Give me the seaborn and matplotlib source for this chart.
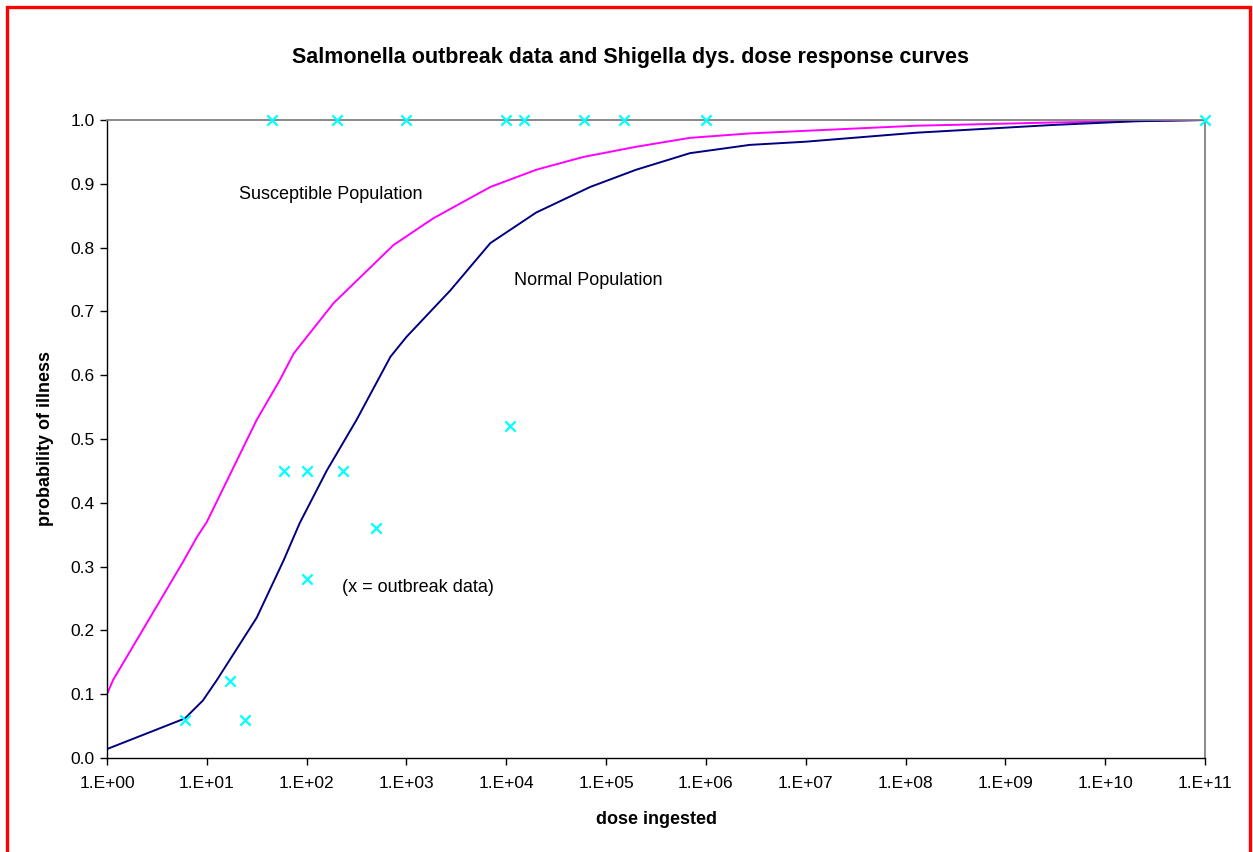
import numpy as np
import pandas as pd
import matplotlib.pyplot as plt
import seaborn as sns
from matplotlib.patches import Rectangle
from matplotlib.ticker import NullLocator

# dose response curves (log10 dose, probability)
normal_logdose = [0, 0.78, 0.96, 1.1, 1.5, 1.77, 1.93, 2.2, 2.5, 2.84, 3.0, 3.44, 3.84,
                  4.3, 4.84, 5.3, 5.84, 6.44, 7.0, 8.1, 9.45, 10.3, 11.0]
normal_prob = [0.014, 0.062, 0.09, 0.122, 0.22, 0.31, 0.368, 0.45, 0.53, 0.629, 0.66,
               0.733, 0.807, 0.855, 0.895, 0.922, 0.948, 0.961, 0.966, 0.98, 0.992,
               0.998, 1.0]

suscept_logdose = [0, 0.06, 0.76, 0.9, 1.0, 1.5, 1.73, 1.87, 2.27, 2.87, 3.27, 3.84,
                   4.3, 4.77, 5.3, 5.84, 6.44, 8.1, 9.45, 11.0]
suscept_prob = [0.1, 0.122, 0.307, 0.346, 0.37, 0.53, 0.592, 0.634, 0.713, 0.804, 0.846,
                0.895, 0.922, 0.942, 0.958, 0.972, 0.979, 0.991, 0.996, 1.0]

# outbreak data
outbreak_dose = [45, 200, 1000, 1.0e4, 1.5e4, 6.0e4, 1.5e5, 1.0e6, 1.0e11,
                 6, 17, 24, 60, 100, 230, 100, 500, 1.1e4]
outbreak_prob = [1.0, 1.0, 1.0, 1.0, 1.0, 1.0, 1.0, 1.0, 1.0,
                 0.06, 0.12, 0.06, 0.45, 0.45, 0.45, 0.28, 0.36, 0.52]

xtick_labels = ["1.E+00", "1.E+01", "1.E+02", "1.E+03", "1.E+04", "1.E+05",
                "1.E+06", "1.E+07", "1.E+08", "1.E+09", "1.E+10", "1.E+11"]
ytick_values = [0.0, 0.1, 0.2, 0.3, 0.4, 0.5, 0.6, 0.7, 0.8, 0.9, 1.0]

sns.set_style("white")
plt.rcParams['font.family'] = ['Liberation Sans', 'DejaVu Sans']
plt.rcParams['text.color'] = 'black'
plt.rcParams['axes.labelcolor'] = 'black'
plt.rcParams['xtick.color'] = 'black'
plt.rcParams['ytick.color'] = 'black'

normal = pd.DataFrame({"dose": 10.0 ** np.array(normal_logdose), "prob": normal_prob})
suscept = pd.DataFrame({"dose": 10.0 ** np.array(suscept_logdose), "prob": suscept_prob})
outbreak = pd.DataFrame({"dose": outbreak_dose, "prob": outbreak_prob})

fig = plt.figure(figsize=(12.53, 8.52), dpi=100)
ax = fig.add_axes([107 / 1253, 1 - 758 / 852, (1205 - 107) / 1253, (758 - 120) / 852])

sns.lineplot(data=suscept, x="dose", y="prob", ax=ax, color="#FF00FF", lw=1.4,
             sort=False, estimator=None)
sns.lineplot(data=normal, x="dose", y="prob", ax=ax, color="#000080", lw=1.4,
             sort=False, estimator=None)
sns.scatterplot(data=outbreak, x="dose", y="prob", ax=ax, marker="x", color="#00FFFF",
                s=55, linewidth=1.6, clip_on=False, zorder=5)

ax.set_xscale("log")
ax.set_xlim(1, 1e11)
ax.set_ylim(0, 1.0)
ax.set_xticks([10.0 ** i for i in range(12)])
ax.set_xticklabels(xtick_labels)
ax.xaxis.set_minor_locator(NullLocator())
ax.set_yticks(ytick_values)
ax.set_yticklabels([f"{v:.1f}" for v in ytick_values])

ax.tick_params(axis="both", direction="out", length=5, width=1, color="black",
               labelsize=12.5, bottom=True, left=True)
ax.tick_params(axis="x", pad=8)
ax.tick_params(axis="y", pad=4)

for s in ["left", "bottom"]:
    ax.spines[s].set_color("black")
    ax.spines[s].set_linewidth(1.0)
for s in ["top", "right"]:
    ax.spines[s].set_color("#808080")
    ax.spines[s].set_linewidth(1.3)

ax.set_xlabel("dose ingested", fontsize=13, fontweight="bold", labelpad=14)
ax.set_ylabel("probability of illness", fontsize=13, fontweight="bold", labelpad=12)

ax.text(10 ** 1.32, 0.884, "Susceptible Population", fontsize=13, va="center")
ax.text(10 ** 4.08, 0.749, "Normal Population", fontsize=13, va="center")
ax.text(10 ** 2.355, 0.268, "(x = outbreak data)", fontsize=13, va="center")

fig.text(630 / 1253, 1 - 58 / 852, "Salmonella outbreak data and Shigella dys. dose response curves",
         fontsize=15.5, fontweight="bold", ha="center", va="center")

# red frame around the chart
fig.patches.append(Rectangle((7 / 1253, -0.1), (1250 - 7) / 1253, 0.1 + 1 - 7 / 852,
                             transform=fig.transFigure, fill=False, edgecolor="red",
                             linewidth=2.4))

fig.savefig("out.png", dpi=100)
